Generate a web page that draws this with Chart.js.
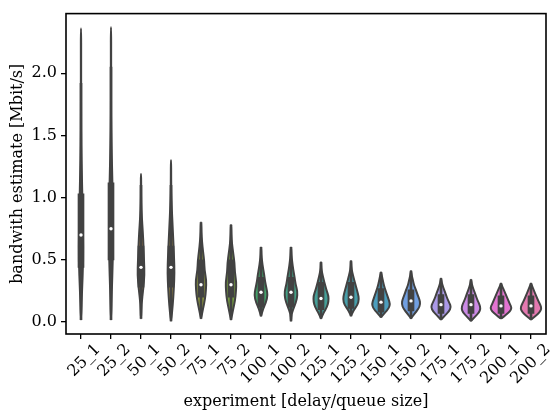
<!DOCTYPE html>
<html>
<head>
<meta charset="utf-8">
<script src="https://cdn.jsdelivr.net/npm/chart.js@4.4.1/dist/chart.umd.min.js"></script>
<style>
  html, body { margin: 0; padding: 0; background: #fff; }
  #wrap { width: 551px; height: 412px; }
</style>
</head>
<body>
<div id="wrap"><canvas id="violinChart" width="551" height="412"></canvas></div>
<script>
// Violin plot of bandwidth estimates per experiment (delay/queue size).
// Violin outlines are drawn by a small plugin through the chart's scales;
// box (q1..q3), whiskers and medians are regular Chart.js datasets.

const categories = ['25_1', '25_2', '50_1', '50_2', '75_1', '75_2', '100_1', '100_2',
    '125_1', '125_2', '150_1', '150_2', '175_1', '175_2', '200_1', '200_2'];

const mins = [0.02, 0.02, 0.03, 0.01, 0.03, 0.02, 0.05, 0.01, 0.03, 0.05, 0.04, 0.03, 0.02, 0.01, 0.03, 0.02];
const maxs = [2.36, 2.37, 1.19, 1.30, 0.80, 0.78, 0.60, 0.60, 0.48, 0.49, 0.40, 0.41, 0.35, 0.34, 0.31, 0.31];
const q1s = [0.44, 0.50, 0.28, 0.28, 0.20, 0.20, 0.12, 0.12, 0.10, 0.11, 0.08, 0.09, 0.07, 0.07, 0.07, 0.07];
const medians = [0.70, 0.75, 0.44, 0.44, 0.30, 0.30, 0.24, 0.24, 0.19, 0.20, 0.16, 0.17, 0.14, 0.14, 0.13, 0.13];
const q3s = [1.03, 1.12, 0.61, 0.61, 0.50, 0.50, 0.36, 0.36, 0.32, 0.32, 0.27, 0.26, 0.22, 0.22, 0.21, 0.21];
const whiskerLows = [0.02, 0.02, 0.03, 0.01, 0.03, 0.02, 0.05, 0.01, 0.03, 0.05, 0.04, 0.03, 0.02, 0.01, 0.03, 0.02];
const whiskerHighs = [1.92, 2.05, 1.10, 1.10, 0.80, 0.78, 0.60, 0.60, 0.48, 0.49, 0.40, 0.41, 0.35, 0.34, 0.31, 0.31];

// Half-width of each violin (share of one category slot), sampled at 11
// evenly spaced levels from min (first) to max (last).
const violinWidths = [
    [0.005, 0.034, 0.074, 0.067, 0.050, 0.027, 0.010, 0.005, 0.005, 0.005, 0.005],
    [0.005, 0.027, 0.060, 0.067, 0.060, 0.040, 0.017, 0.005, 0.005, 0.005, 0.005],
    [0.005, 0.017, 0.074, 0.117, 0.100, 0.084, 0.060, 0.027, 0.010, 0.005, 0.005],
    [0.005, 0.060, 0.094, 0.117, 0.100, 0.077, 0.050, 0.027, 0.010, 0.005, 0.005],
    [0.005, 0.067, 0.134, 0.167, 0.177, 0.117, 0.107, 0.067, 0.034, 0.010, 0.005],
    [0.005, 0.067, 0.134, 0.167, 0.177, 0.127, 0.117, 0.074, 0.034, 0.010, 0.005],
    [0.005, 0.067, 0.167, 0.224, 0.184, 0.134, 0.107, 0.067, 0.034, 0.010, 0.005],
    [0.005, 0.017, 0.117, 0.200, 0.217, 0.150, 0.117, 0.074, 0.040, 0.014, 0.005],
    [0.005, 0.084, 0.200, 0.250, 0.250, 0.184, 0.134, 0.084, 0.040, 0.010, 0.005],
    [0.005, 0.084, 0.217, 0.267, 0.234, 0.184, 0.134, 0.084, 0.040, 0.010, 0.005],
    [0.005, 0.134, 0.267, 0.300, 0.250, 0.200, 0.150, 0.100, 0.067, 0.034, 0.005],
    [0.005, 0.117, 0.250, 0.310, 0.284, 0.217, 0.167, 0.100, 0.067, 0.027, 0.005],
    [0.005, 0.134, 0.267, 0.334, 0.284, 0.217, 0.167, 0.117, 0.067, 0.027, 0.005],
    [0.005, 0.134, 0.267, 0.317, 0.284, 0.217, 0.167, 0.117, 0.067, 0.027, 0.005],
    [0.017, 0.167, 0.300, 0.357, 0.300, 0.250, 0.200, 0.150, 0.100, 0.050, 0.005],
    [0.007, 0.150, 0.284, 0.350, 0.317, 0.250, 0.200, 0.150, 0.100, 0.050, 0.005]
];

const yTicks = [0.0, 0.5, 1.0, 1.5, 2.0];

const palette = ['#f77189', '#e5822f', '#ce9032', '#b59b31', '#97a431', '#77ab31', '#32b166', '#33b08a',
    '#36ada4', '#37abb9', '#39a7d0', '#5e9cf3', '#a48cf4', '#d27bf4', '#f561dd', '#f667b0'];

const GRAY = '#424242';
const FONT = "'DejaVu Serif', serif";
const FONT_SIZE = 16;

// seaborn draws violins at 75% saturation
function desaturate(hex, prop) {
    let r = parseInt(hex.slice(1, 3), 16) / 255, g = parseInt(hex.slice(3, 5), 16) / 255, b = parseInt(hex.slice(5, 7), 16) / 255;
    const max = Math.max(r, g, b), min = Math.min(r, g, b);
    let h = 0, s = 0;
    const l = (max + min) / 2;
    if (max !== min) {
        const d = max - min;
        s = l > 0.5 ? d / (2 - max - min) : d / (max + min);
        if (max === r) h = (g - b) / d + (g < b ? 6 : 0);
        else if (max === g) h = (b - r) / d + 2;
        else h = (r - g) / d + 4;
        h /= 6;
    }
    s *= prop;
    const hue2rgb = (p, q, t) => {
        if (t < 0) t += 1; if (t > 1) t -= 1;
        if (t < 1 / 6) return p + (q - p) * 6 * t;
        if (t < 1 / 2) return q;
        if (t < 2 / 3) return p + (q - p) * (2 / 3 - t) * 6;
        return p;
    };
    if (s === 0) { r = g = b = l; } else {
        const q = l < 0.5 ? l * (1 + s) : l + s - l * s;
        const p = 2 * l - q;
        r = hue2rgb(p, q, h + 1 / 3); g = hue2rgb(p, q, h); b = hue2rgb(p, q, h - 1 / 3);
    }
    return `rgb(${Math.round(r * 255)}, ${Math.round(g * 255)}, ${Math.round(b * 255)})`;
}

const fillColors = palette.map(c => desaturate(c, 0.75));

const violinPlugin = {
    id: 'violins',
    beforeDatasetsDraw(chart) {
        const { ctx, scales: { x, y } } = chart;
        const slot = x.getPixelForValue(1) - x.getPixelForValue(0);
        ctx.save();
        categories.forEach((cat, i) => {
            const cx = x.getPixelForValue(i);
            const widths = violinWidths[i];
            const n = widths.length;
            const right = widths.map((w, k) => ({ px: cx + w * slot, py: y.getPixelForValue(mins[i] + (maxs[i] - mins[i]) * k / (n - 1)) }));
            const left = right.map(p => ({ px: 2 * cx - p.px, py: p.py })).reverse();
            const pts = [{ px: cx, py: right[0].py }, ...right, { px: cx, py: right[n - 1].py }, ...left];

            // smooth outline: quadratic curves through segment midpoints
            ctx.beginPath();
            ctx.moveTo((pts[0].px + pts[1].px) / 2, (pts[0].py + pts[1].py) / 2);
            for (let k = 1; k <= pts.length; k++) {
                const p = pts[k % pts.length], q = pts[(k + 1) % pts.length];
                ctx.quadraticCurveTo(p.px, p.py, (p.px + q.px) / 2, (p.py + q.py) / 2);
            }
            ctx.closePath();
            ctx.fillStyle = fillColors[i];
            ctx.fill();
            ctx.lineWidth = 2;
            ctx.lineJoin = 'round';
            ctx.strokeStyle = GRAY;
            ctx.stroke();
        });
        ctx.restore();
    },
    afterDraw(chart) {
        const { ctx, chartArea: a } = chart;
        ctx.save();
        ctx.strokeStyle = '#000';
        ctx.lineWidth = 1.6;
        ctx.strokeRect(a.left, a.top, a.right - a.left, a.bottom - a.top);
        ctx.restore();
    }
};

Chart.defaults.font.family = FONT;
Chart.defaults.color = '#000';

new Chart(document.getElementById('violinChart'), {
    type: 'bar',
    data: {
        labels: categories,
        datasets: [
            {
                label: 'whiskers',
                data: categories.map((c, i) => [whiskerLows[i], whiskerHighs[i]]),
                backgroundColor: GRAY,
                barThickness: 2,
                grouped: false,
                order: 3
            },
            {
                label: 'box',
                data: categories.map((c, i) => [q1s[i], q3s[i]]),
                backgroundColor: GRAY,
                barThickness: 6,
                grouped: false,
                order: 2
            },
            {
                label: 'median',
                type: 'line',
                data: medians,
                showLine: false,
                pointRadius: 1.7,
                pointBackgroundColor: '#fff',
                pointBorderWidth: 0,
                order: 1
            }
        ]
    },
    options: {
        responsive: false,
        animation: false,
        events: [],
        layout: { padding: { top: 12, right: 5, left: 0, bottom: 0 } },
        plugins: { legend: { display: false }, tooltip: { enabled: false } },
        scales: {
            x: {
                afterFit: (scale) => { scale.height = 78; },
                grid: { display: true, offset: false, drawOnChartArea: false, drawTicks: true, tickLength: 5, color: '#000', lineWidth: 1.3 },
                border: { display: false },
                ticks: { autoSkip: false, minRotation: 45, maxRotation: 45, padding: 1, labelOffset: 17, font: { family: FONT, size: FONT_SIZE } },
                title: { display: true, text: 'experiment [delay/queue size]', padding: { top: 1, bottom: 1 }, font: { family: FONT, size: FONT_SIZE } }
            },
            y: {
                min: -0.096,
                max: 2.48,
                afterFit: (scale) => { scale.width = 66; },
                afterBuildTicks: (scale) => { scale.ticks = yTicks.map(v => ({ value: v })); },
                grid: { display: true, drawOnChartArea: false, drawTicks: true, tickLength: 5, color: '#000', lineWidth: 1.3 },
                border: { display: false },
                ticks: { padding: 4, callback: (v) => Number(v).toFixed(1), font: { family: FONT, size: FONT_SIZE } },
                title: { display: true, text: 'bandwith estimate [Mbit/s]', padding: { top: 8, bottom: 0 }, font: { family: FONT, size: FONT_SIZE } }
            }
        }
    },
    plugins: [violinPlugin]
});
</script>
</body>
</html>
